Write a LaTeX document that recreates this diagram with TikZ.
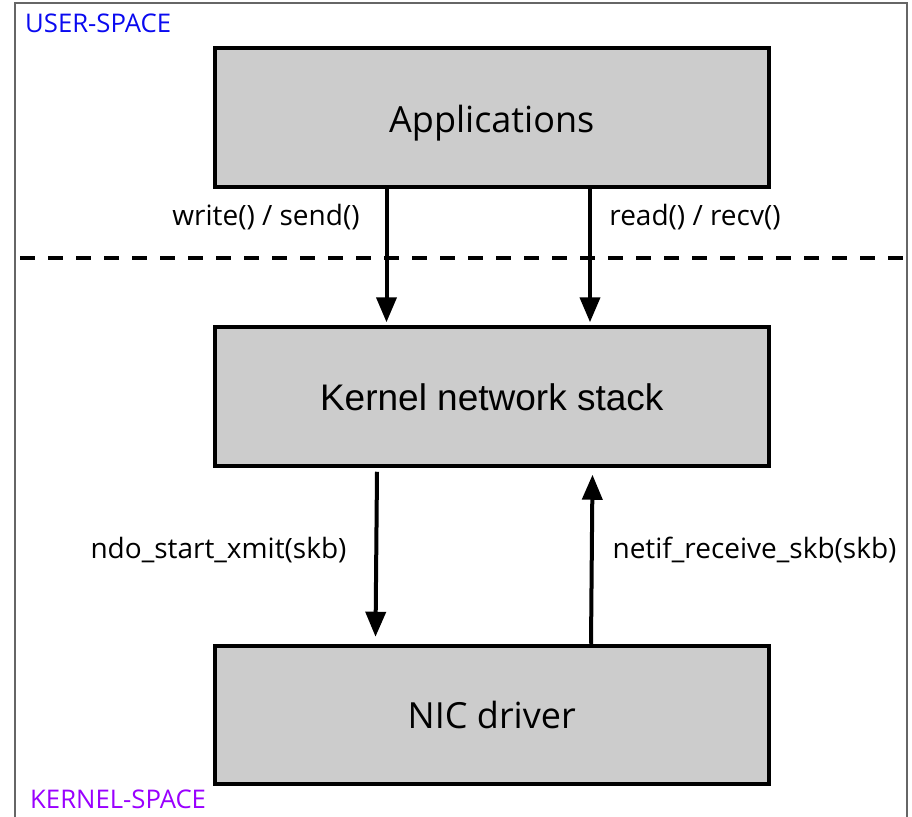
\documentclass[tikz,border=0pt]{standalone}
\usepackage{fontspec}
\setmainfont{Liberation Sans}
\newfontfamily\labelfont{Open Sans}
\usetikzlibrary{arrows.meta,calc}
\definecolor{boxgray}{HTML}{CCCCCC}
\definecolor{framegray}{HTML}{666666}
\definecolor{userblue}{HTML}{0A0AF0}
\definecolor{kernpurple}{HTML}{9A00FF}
\begin{document}
\begin{tikzpicture}[x=1pt,y=-1pt,
  blockbox/.style={draw=black, line width=4pt, fill=boxgray, minimum width=553.5pt, minimum height=138.5pt, inner sep=0pt, text depth=0pt},
  arr/.style={line width=4pt, -{Triangle[width=20pt,length=25pt]}},
  lbl/.style={anchor=base, inner sep=0pt, font=\labelfont\fontsize{28}{32}\selectfont},
  zone/.style={anchor=base west, inner sep=0pt, font=\labelfont\fontsize{25.7}{29}\selectfont}]
\useasboundingbox (0,0) rectangle (912,816);
\clip (0,0) rectangle (912,816);
\fill[white] (0,0) rectangle (912,816);
\draw[framegray, line width=2pt] (15,3) rectangle (907,840);
\node[zone, text=userblue] (user) at (25,33) {USER-SPACE};
\node[zone, text=kernpurple] (kspace) at (30,808) {KERNEL-SPACE};
\draw[line width=4pt, dash pattern=on 15pt off 13pt] (20,258) coordinate (dl) -- (906,258) coordinate (dr);
\node[blockbox, text height=29.5pt, font=\labelfont\fontsize{36}{40}\selectfont] (app) at (491.75,117.25) {Applications};
\node[blockbox, text height=27pt, font=\fontsize{37}{40}\selectfont] (kern) at (491.75,396.5) {Kernel network stack};
\node[blockbox, text height=26pt, font=\labelfont\fontsize{36}{40}\selectfont] (nic) at (491.75,715) {NIC driver};
\draw[arr] ([xshift=173.5pt]app.south west) -- ([xshift=173.5pt,yshift=3pt]kern.north west);
\draw[arr] ([xshift=377pt]app.south west) -- ([xshift=377pt,yshift=3pt]kern.north west);
\draw[arr] ([xshift=164pt,yshift=-4pt]kern.south west) -- ([xshift=162.5pt,yshift=7pt]nic.north west);
\draw[arr] ([xshift=378pt]nic.north west) -- ([xshift=379.5pt,yshift=-7pt]kern.south west);
\node[lbl] (lw) at (266,225) {write() / send()};
\node[lbl] (lr) at (695,225) {read() / recv()};
\node[lbl] (lx) at (218.5,558) {ndo\_start\_xmit(skb)};
\node[lbl] (lrx) at (754.5,558) {netif\_receive\_skb(skb)};
\end{tikzpicture}
\end{document}
